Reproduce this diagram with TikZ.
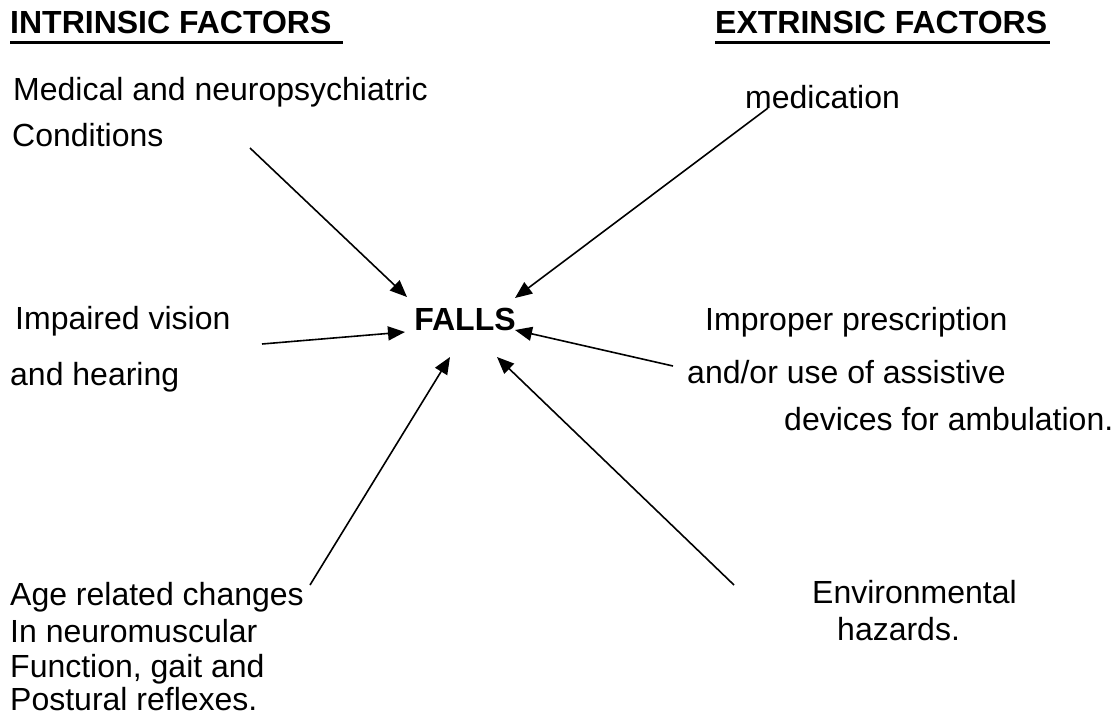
\documentclass[tikz,border=0pt]{standalone}
\usepackage{fontspec}
\setmainfont{Liberation Sans}
\usetikzlibrary{arrows.meta}
\tikzset{
  lbl/.style={anchor=base west, inner sep=0pt, font=\fontsize{32}{37}\selectfont},
  head/.style={lbl, font=\fontsize{32}{37}\selectfont\bfseries},
  feed/.style={line width=1.6pt, -{Triangle[length=17pt,width=14pt]}},
}
\begin{document}
\begin{tikzpicture}[x=1pt,y=-1pt]
\useasboundingbox (0,0) rectangle (1119,715);

\node[head] (intr) at (10,33) {INTRINSIC FACTORS};
\draw[line width=3pt] (intr.base west) ++(0,9) -- ++(333,0);
\node[head] (extr) at (715,33) {EXTRINSIC FACTORS};
\draw[line width=3pt] (extr.base west) ++(0,9) -- ++(335,0);

\node[head, anchor=base] (falls) at (465,330) {FALLS};

\node[lbl] (med)  at (13,100)  {Medical and neuropsychiatric};
\node[lbl] (cond) at (12,146)  {Conditions};
\node[lbl] (drug) at (745,108) {medication};
\node[lbl] (vis)  at (15,329)  {Impaired vision};
\node[lbl] (hear) at (10,385)  {and hearing};
\node[lbl] (imp1) at (705,330) {Improper prescription};
\node[lbl] (imp2) at (687,383) {and/or use of assistive};
\node[lbl] (imp3) at (784,430) {devices for ambulation.};
\node[lbl] (env1) at (812,603) {Environmental};
\node[lbl] (env2) at (837,640) {hazards.};
\node[lbl] (age1) at (10,605)  {Age related changes};
\node[lbl] (age2) at (10,642)  {In neuromuscular};
\node[lbl] (age3) at (10,677)  {Function, gait and};
\node[lbl] (age4) at (10,710)  {Postural reflexes.};

\coordinate (s1) at (250,148);
\coordinate (s2) at (768,108);
\coordinate (s3) at (262,344);
\coordinate (s4) at (673,366);
\coordinate (s5) at (310,585);
\coordinate (s6) at (734,585);
\coordinate (t1) at ([shift={(-58,-33)}]falls.base);
\coordinate (t2) at ([shift={(50,-32)}]falls.base);
\coordinate (t3) at ([shift={(-60,2)}]falls.base);
\coordinate (t4) at ([shift={(50,0)}]falls.base);
\coordinate (t5) at ([shift={(-15,27)}]falls.base);
\coordinate (t6) at ([shift={(32,27)}]falls.base);

\foreach \s/\t in {s1/t1, s2/t2, s3/t3, s4/t4, s5/t5, s6/t6}
  \draw[feed] (\s) -- (\t);

\end{tikzpicture}
\end{document}
